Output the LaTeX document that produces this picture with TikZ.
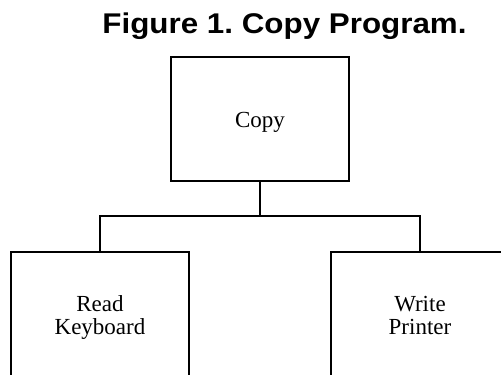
\documentclass[tikz,border=0pt]{standalone}
\usepackage{fontspec}
\setmainfont{Liberation Serif}
\newfontfamily\titlefont[FakeStretch=1.1]{Liberation Sans}

\tikzset{every picture/.style={line width=2pt}}
\tikzset{
	modbox/.style={draw, rectangle, minimum width=178, minimum height=124, align=center, inner sep=0pt,
		text height=16, font=\fontsize{23}{23}\selectfont},
	figtitle/.style={font=\titlefont\bfseries\fontsize{28.5}{29}\selectfont\frenchspacing, inner sep=0pt, anchor=base}
}

\begin{document}
\begin{tikzpicture}[x=1pt,y=1pt,yscale=-1,xscale=1]
	%set diagram area: 501 wide, 375 high
	\clip (0,0) rectangle (501,375);

	% Text Node
	\node [figtitle] (title) at (284.5,33) {Figure 1. Copy Program.};

	%Shape: Rectangle
	\node [modbox, text depth=0] (copy) at (260,119) {Copy};
	%Shape: Rectangle
	\node [modbox, minimum height=130, text height=39, text depth=5] (read) at (100,317) {Read\\Keyboard};
	%Shape: Rectangle
	\node [modbox, minimum height=130, text height=39, text depth=5] (write) at (420,317) {Write\\Printer};

	%Straight Lines
	\coordinate (split) at (260,216);
	\draw (copy.south) -- (split);
	\draw (read.north) |- (split) -| (write.north);

\end{tikzpicture}
\end{document}
